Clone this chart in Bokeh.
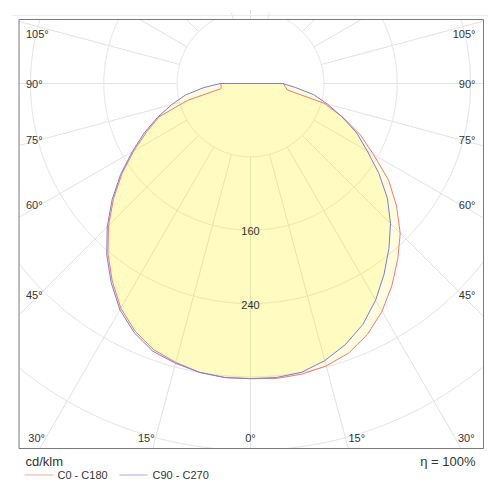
import numpy as np
from bokeh.plotting import figure
from bokeh.models import Label
from bokeh.embed import file_html
from bokeh.resources import INLINE

# ---- data (cd/klm) ----
gamma = [0, 5, 10, 15, 20, 25, 30, 35, 40, 45, 50, 55, 60, 65, 70, 75, 80, 85, 90]
c0 = [322, 323, 322, 319, 313, 302, 287, 269, 250, 231, 208, 184, 155, 132, 107, 83, 41, 38, 36]
c180 = [322, 322, 320, 315, 309, 298, 283, 263, 242, 219, 195, 171, 147, 125, 106, 71, 33, 32, 33]
c90 = [322, 322, 320, 313, 303, 290, 273, 254, 235, 216, 195, 171, 147, 128, 106, 87, 70, 49, 35]
c270 = [322, 322, 320, 316, 311, 300, 285, 265, 244, 221, 197, 173, 149, 128, 108, 89, 72, 51, 33]
ring_values = [80, 160, 240, 320, 400]
ring_labels = ["160", "240"]
spoke_angles = list(range(0, 181, 15))
side_label_angles = [45, 60, 75, 90, 105]
bottom_label_angles = [0, 15, 30]
unit_text = "cd/klm"
eff_text = "\u03b7 = 100%"
series_names = ["C0 - C180", "C90 - C270"]

RED = "#EE7B7B"
BLUE = "#7B7BDD"
GRID = "#E2E2E2"
TXT = "#333333"
FONT = "Liberation Sans"

# ---- geometry: 80 cd/klm = 73.33 px, page px -> data ----
K = 80 / 73.333
W, H = 496, 496
PCX, PCY = 250, 83          # centre of the diagram on the page
FR_L, FR_R, FR_T, FR_B = 18.5, 483, 19, 448   # diagram frame on the page


def P(px, py):
    return (px - PCX) * K, (PCY - py) * K


x0, y1 = P(0, 0)
x1, y0 = P(W, H)
p = figure(width=W, height=H, x_range=(x0, x1), y_range=(y0, y1),
           output_backend="svg", toolbar_location=None,
           min_border_left=0, min_border_right=0, min_border_top=0, min_border_bottom=0)
p.axis.visible = False
p.grid.visible = False
p.outline_line_color = None
p.background_fill_color = "white"
p.border_fill_color = "white"

fl, ft = P(FR_L, FR_T)
fr, fb = P(FR_R, FR_B)


def inside(x, y):
    return (x >= fl) & (x <= fr) & (y >= fb) & (y <= ft)


# rings (clipped to the frame)
th = np.linspace(0, 2 * np.pi, 1441)
for rv in ring_values:
    rx = rv * np.cos(th)
    ry = rv * np.sin(th)
    m = inside(rx, ry)
    rx = np.where(m, rx, np.nan)
    ry = np.where(m, ry, np.nan)
    p.line(rx, ry, line_color=GRID, line_width=1)

# spokes from the first ring to the frame
sx0, sy0, sx1, sy1 = [], [], [], []
for a in spoke_angles:
    t = np.radians(a)
    for s in (-1, 1):
        dx, dy = s * np.sin(t), -np.cos(t)
        ts = []
        if abs(dx) > 1e-9:
            ts += [v / dx for v in (fl, fr) if v / dx > 0]
        if abs(dy) > 1e-9:
            ts += [v / dy for v in (fb, ft) if v / dy > 0]
        tmax = min(ts)
        sx0.append(ring_values[0] * dx); sy0.append(ring_values[0] * dy)
        sx1.append(tmax * dx); sy1.append(tmax * dy)
p.segment(x0=sx0, y0=sy0, x1=sx1, y1=sy1, line_color=GRID, line_width=1)

# frame
p.quad(left=fl, right=fr, top=ft, bottom=fb, fill_color=None, line_color="#7a7a7a", line_width=1)


def curve(right, left):
    g = np.radians(np.array(gamma, dtype=float))
    r_r = np.array(right, dtype=float)
    r_l = np.array(left, dtype=float)
    xl = -(r_l * np.sin(g))[::-1]
    yl = -(r_l * np.cos(g))[::-1]
    xr = r_r * np.sin(g)
    yr = -r_r * np.cos(g)
    xs = np.concatenate([xl, xr, [0.0], xl[:1]])
    ys = np.concatenate([yl, yr, [0.0], yl[:1]])
    return xs, ys


xr_, yr_ = curve(c0, c180)
xb_, yb_ = curve(c90, c270)
p.patch(xb_, yb_, fill_color="#FFF200", fill_alpha=0.13, line_color=None)
p.patch(xr_, yr_, fill_color="#FFF200", fill_alpha=0.13, line_color=None)
p.line(xr_, yr_, line_color=RED, line_width=1)
p.line(xb_, yb_, line_color=BLUE, line_width=1)


def lab(x, y, text, align, size="11px", baseline="middle"):
    p.add_layout(Label(x=x, y=y, text=text, text_align=align, text_baseline=baseline,
                       text_font=FONT, text_font_size=size, text_color=TXT))


# ring labels
for rv, t in zip(ring_values[1:3], ring_labels):
    lab(0, -rv - 1.3 * K, t, "center")

# side degree labels
for a in side_label_angles:
    ty = PCY + 211 / np.tan(np.radians(a)) if a != 90 else PCY
    ty = max(ty, 33.8)
    lx, ly = P(25.5, ty)
    lab(lx, ly, f"{a}\u00b0", "left")
    lx, ly = P(475, ty)
    lab(lx, ly, f"{a}\u00b0", "right")

# bottom degree labels
for a in bottom_label_angles:
    dx = (437.2 - PCY) * np.tan(np.radians(a))
    if a == 0:
        lx, ly = P(PCX, 437.2)
        lab(lx, ly, f"{a}\u00b0", "center")
        continue
    lx, ly = P(PCX - dx - 1, 437.2)
    lab(lx, ly, f"{a}\u00b0", "right")
    lx, ly = P(PCX + dx + 3, 437.2)
    lab(lx, ly, f"{a}\u00b0", "left")

# texts below the frame
lx, ly = P(25, 461)
lab(lx, ly, unit_text, "left", size="13px")
lx, ly = P(475, 460.5)
lab(lx, ly, eff_text, "right", size="13px")

# legend
for (xa, xb, xt), name, col in zip([(24, 53, 57), (119, 147, 152)], series_names, ["#F2A8A8", "#A8A8EE"]):
    ax, ay = P(xa, 474.5)
    bx, by = P(xb, 474.5)
    p.line([ax, bx], [ay, by], line_color=col, line_width=1)
    tx, ty = P(xt, 474)
    lab(tx, ty, name, "left", size="11px")

# faint top rule
ax, ay = P(12, 15)
bx, by = P(488, 15)
p.line([ax, bx], [ay, by], line_color="#ECECEC", line_width=1)

open("out.html", "w").write(file_html(p, INLINE))
